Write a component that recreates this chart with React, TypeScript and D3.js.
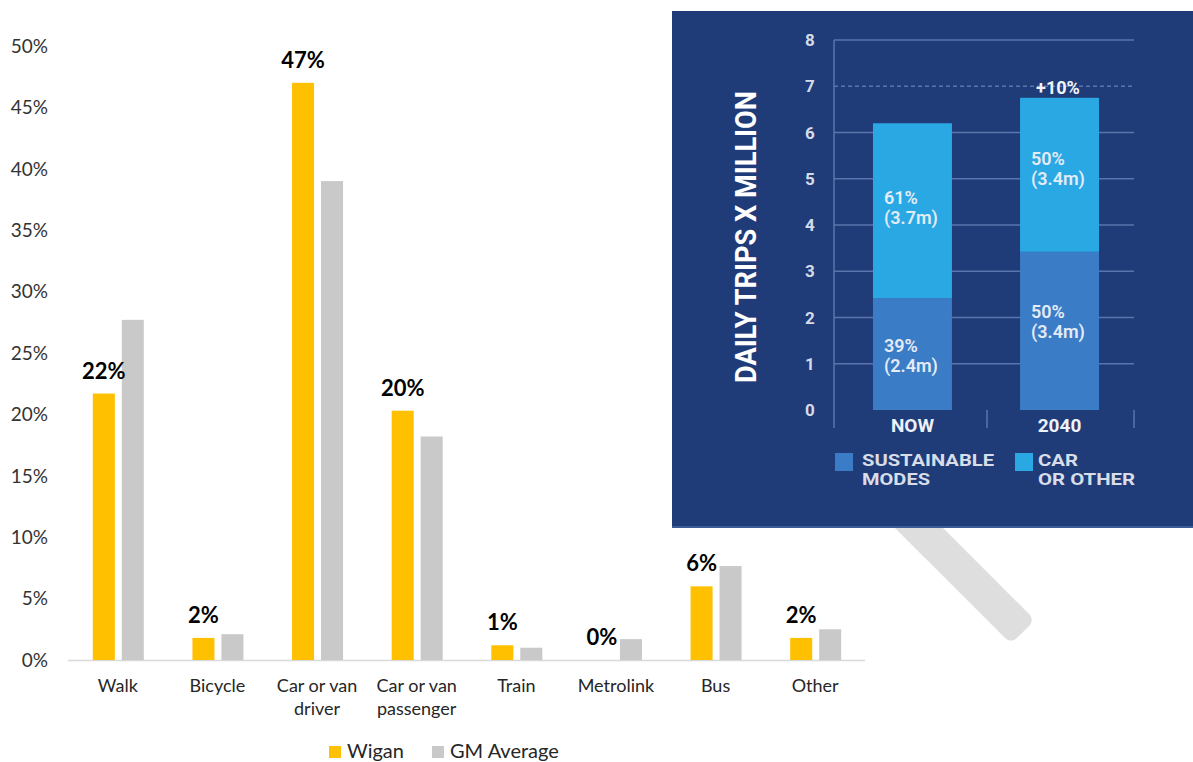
import React from "react";
import * as d3 from "d3";

const categories = ["Walk", "Bicycle", "Car or van driver", "Car or van passenger", "Train", "Metrolink", "Bus", "Other"];
const categoryLines = [["Walk"], ["Bicycle"], ["Car or van", "driver"], ["Car or van", "passenger"], ["Train"], ["Metrolink"], ["Bus"], ["Other"]];
const wigan = [0.217, 0.018, 0.47, 0.203, 0.012, 0.0, 0.060, 0.018];
const gmAverage = [0.277, 0.021, 0.39, 0.182, 0.010, 0.017, 0.0765, 0.025];
const wiganLabels = ["22%", "2%", "47%", "20%", "1%", "0%", "6%", "2%"];
const yTicks = [0, 0.05, 0.1, 0.15, 0.2, 0.25, 0.3, 0.35, 0.4, 0.45, 0.5];
const seriesNames = ["Wigan", "GM Average"];

// inset chart
const insetCats = ["NOW", "2040"];
const sustainable = [2.42, 3.42];
const carOther = [3.78, 3.33];
const sustLabels = [["39%", "(2.4m)"], ["50%", "(3.4m)"]];
const carLabels = [["61%", "(3.7m)"], ["50%", "(3.4m)"]];
const insetTicks = [0, 1, 2, 3, 4, 5, 6, 7, 8];

const YELLOW = "#ffc000";
const GREY = "#c9c9c9";
const NAVY = "#1f3c78";
const SUST = "#3b7cc6";
const CAR = "#2aa8e4";

export default function App() {
  const x0 = d3.scaleBand().domain(categories).range([68, 865]);
  const x1 = d3.scaleBand().domain(seriesNames).range([-25, 26]).paddingInner(0.24);
  const y = d3.scaleLinear().domain([0, 0.5]).range([660, 46]);
  const pct = d3.format(".0%");

  const ix = d3.scaleBand().domain(insetCats).range([834, 1138]).paddingInner(0.463).paddingOuter(0.265);
  const iy = d3.scaleLinear().domain([0, 8]).range([410, 40]);

  const font = "Lato, 'Open Sans', sans-serif";
  const ifont = "Roboto, 'Open Sans', sans-serif";

  return (
    <svg width={1193} height={762} style={{ position: "absolute", left: 0, top: 0, background: "#fff" }}>
      {/* magnifier handle */}
      <g transform="translate(1023,632) rotate(45)">
        <rect x={-260} y={-17} width={260} height={34} rx={8} fill="#dedede" />
      </g>
      {/* inset panel */}
      <rect x={672} y={11} width={530} height={517} fill={NAVY} />
      <rect x={672} y={526} width={530} height={2} fill="#3a5a98" />

      {/* inset grid */}
      {insetTicks.map((t) => (
        <g key={t}>
          {t > 0 && (
            <line x1={834} x2={1134} y1={iy(t)} y2={iy(t)} stroke="#5b74ab" strokeWidth={1.5}
              strokeDasharray={t === 7 ? "4 3" : undefined} />
          )}
          <text x={810} y={iy(t)} dy="0.36em" textAnchor="middle" fill="#d4dbe8" fontFamily={ifont}
            fontWeight={700} fontSize={17}>{t}</text>
        </g>
      ))}
      <line x1={834} x2={834} y1={40} y2={428} stroke="#5b74ab" strokeWidth={1.5} />
      <line x1={987} x2={987} y1={410} y2={428} stroke="#5b74ab" strokeWidth={1.5} />
      <line x1={1134} x2={1134} y1={410} y2={428} stroke="#5b74ab" strokeWidth={1.5} />

      {insetCats.map((c, i) => {
        const bx = ix(c)!;
        const bw = ix.bandwidth();
        const sTop = iy(sustainable[i]);
        const cTop = iy(sustainable[i] + carOther[i]);
        return (
          <g key={c}>
            <rect x={bx} y={sTop} width={bw} height={iy(0) - sTop} fill={SUST} />
            <rect x={bx} y={cTop} width={bw} height={sTop - cTop} fill={CAR} />
            {carLabels[i].map((l, k) => (
              <text key={"c" + k} x={bx + 11} y={(i === 0 ? 204 : 165) + k * 20} fill="#e3ebf7"
                fontFamily={ifont} fontWeight={600} fontSize={18}>{l}</text>
            ))}
            {sustLabels[i].map((l, k) => (
              <text key={"s" + k} x={bx + 11} y={(i === 0 ? 352 : 318) + k * 20} fill="#e3ebf7"
                fontFamily={ifont} fontWeight={600} fontSize={18}>{l}</text>
            ))}
            <text x={bx + bw / 2} y={432} textAnchor="middle" fill="#eef1f7" fontFamily={ifont}
              fontWeight={700} fontSize={19}>{c}</text>
          </g>
        );
      })}
      <text x={1058} y={94} textAnchor="middle" fill="#f2f4f8" fontFamily={ifont} fontWeight={700}
        fontSize={18}>+10%</text>
      <text transform="translate(756,237) rotate(-90)" textAnchor="middle" fill="#ffffff" fontFamily={ifont}
        fontWeight={700} fontSize={29} textLength={292} lengthAdjust="spacingAndGlyphs">DAILY TRIPS X MILLION</text>

      {/* inset legend */}
      <rect x={835} y={453} width={18} height={18} fill={SUST} />
      <text x={862} y={466} fill="#d7dde9" fontFamily={ifont} fontWeight={700} fontSize={16}
        textLength={132} lengthAdjust="spacingAndGlyphs">SUSTAINABLE</text>
      <text x={862} y={485} fill="#d7dde9" fontFamily={ifont} fontWeight={700} fontSize={16}
        textLength={68} lengthAdjust="spacingAndGlyphs">MODES</text>
      <rect x={1015} y={453} width={18} height={18} fill={CAR} />
      <text x={1038} y={466} fill="#d7dde9" fontFamily={ifont} fontWeight={700} fontSize={16}
        textLength={40} lengthAdjust="spacingAndGlyphs">CAR</text>
      <text x={1038} y={485} fill="#d7dde9" fontFamily={ifont} fontWeight={700} fontSize={16}
        textLength={97} lengthAdjust="spacingAndGlyphs">OR OTHER</text>

      {/* main chart y ticks */}
      {yTicks.map((t) => (
        <text key={t} x={48} y={y(t)} dy="0.36em" textAnchor="end" fill="#333333" fontFamily={font}
          fontSize={19}>{pct(t)}</text>
      ))}
      <line x1={68} x2={865} y1={660.5} y2={660.5} stroke="#d9d9d9" strokeWidth={1.5} />

      {categories.map((c, i) => {
        const cx = x0(c)! + x0.bandwidth() / 2;
        const wx = cx + x1("Wigan")!;
        const gx = cx + x1("GM Average")!;
        return (
          <g key={c}>
            <rect x={wx} y={y(wigan[i])} width={x1.bandwidth()} height={y(0) - y(wigan[i])} fill={YELLOW} />
            <rect x={gx} y={y(gmAverage[i])} width={x1.bandwidth()} height={y(0) - y(gmAverage[i])} fill={GREY} />
            <text x={wx + x1.bandwidth() / 2} y={y(wigan[i]) - 15} textAnchor="middle" fill="#000"
              fontFamily={font} fontWeight={700} fontSize={22}>{wiganLabels[i]}</text>
            {categoryLines[i].map((l, k) => (
              <text key={k} x={cx} y={692 + k * 23} textAnchor="middle" fill="#262626" fontFamily={font}
                fontSize={18}>{l}</text>
            ))}
          </g>
        );
      })}

      {/* main legend */}
      <rect x={329} y={746} width={12} height={12} fill={YELLOW} />
      <text x={347} y={758} fill="#262626" fontFamily={font} fontSize={20}>Wigan</text>
      <rect x={432} y={746} width={12} height={12} fill={GREY} />
      <text x={450} y={758} fill="#262626" fontFamily={font} fontSize={20}>GM Average</text>
    </svg>
  );
}
